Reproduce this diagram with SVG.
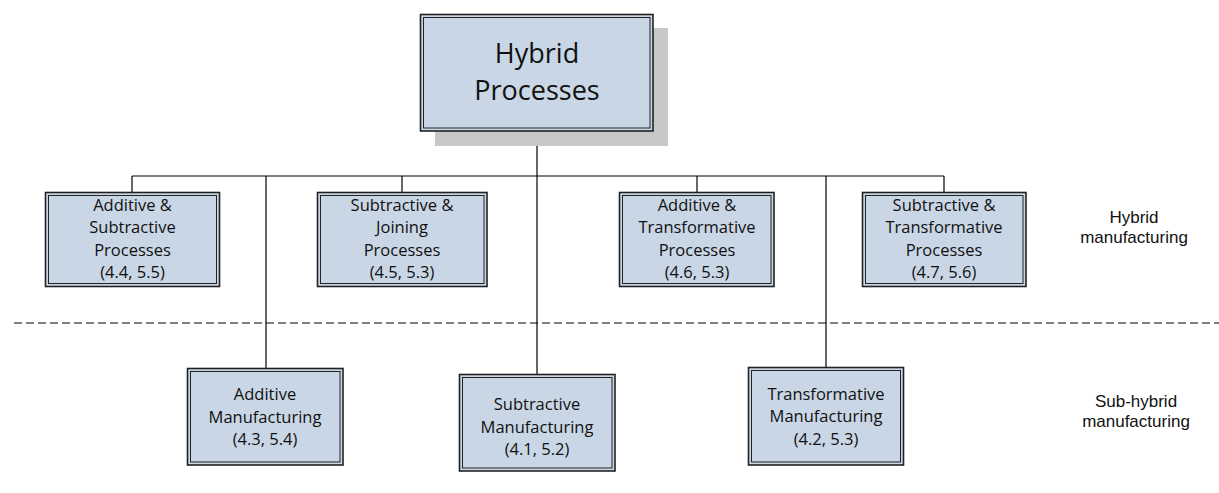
<svg xmlns="http://www.w3.org/2000/svg" width="1219" height="493" viewBox="0 0 1219 493">
<style>
.box{fill:#c9d6e5;stroke:#222;stroke-width:1.6}
.inner{fill:none;stroke:#222;stroke-width:1}
.t{font-family:"Open Sans","Liberation Sans",sans-serif;font-size:16.5px;fill:#111;text-anchor:middle}
.title{font-family:"Open Sans","Liberation Sans",sans-serif;font-size:27px;fill:#111;text-anchor:middle}
.lab{font-family:"Liberation Sans",Arial,sans-serif;font-size:17px;fill:#111;text-anchor:middle}
.conn{stroke:#000;stroke-width:1.2;fill:none}
</style>
<rect width="1219" height="493" fill="#fff"/>
<g id="connectors">
<line class="conn" x1="537" y1="131" x2="537" y2="374"/>
<line class="conn" x1="132" y1="176" x2="944" y2="176"/>
<line class="conn" x1="132" y1="176" x2="132" y2="192"/>
<line class="conn" x1="402" y1="176" x2="402" y2="192"/>
<line class="conn" x1="697" y1="176" x2="697" y2="192"/>
<line class="conn" x1="944" y1="176" x2="944" y2="192"/>
<line class="conn" x1="266" y1="176" x2="266" y2="368"/>
<line class="conn" x1="826" y1="176" x2="826" y2="367"/>
</g>
<g id="divider">
<line x1="14" y1="323" x2="1219" y2="323" stroke="#000" stroke-width="1.2" stroke-dasharray="8,4"/>
</g>
<g id="hybrid-processes">
<rect x="435" y="28" width="233" height="118" fill="#c8c8c8"/>
<rect class="box" x="420.5" y="14.5" width="232.5" height="116.5"/>
<rect class="inner" x="423.5" y="17.5" width="226.5" height="110.5"/>
<text class="title" x="537" y="63">Hybrid</text>
<text class="title" x="537" y="100">Processes</text>
</g>
<g id="add-sub">
<rect class="box" x="45.5" y="192.5" width="174" height="94"/>
<rect class="inner" x="48.5" y="195.5" width="168" height="88"/>
<text class="t" x="132.5" y="211">Additive &amp;</text>
<text class="t" x="132.5" y="233">Subtractive</text>
<text class="t" x="132.5" y="256">Processes</text>
<text class="t" x="132.5" y="278">(4.4, 5.5)</text>
</g>
<g id="sub-join">
<rect class="box" x="317.5" y="192.5" width="169.5" height="94"/>
<rect class="inner" x="320.5" y="195.5" width="163.5" height="88"/>
<text class="t" x="402" y="211">Subtractive &amp;</text>
<text class="t" x="402" y="233">Joining</text>
<text class="t" x="402" y="256">Processes</text>
<text class="t" x="402" y="278">(4.5, 5.3)</text>
</g>
<g id="add-trans">
<rect class="box" x="619.5" y="192.5" width="154.5" height="94"/>
<rect class="inner" x="622.5" y="195.5" width="148.5" height="88"/>
<text class="t" x="697" y="211">Additive &amp;</text>
<text class="t" x="697" y="233">Transformative</text>
<text class="t" x="697" y="256">Processes</text>
<text class="t" x="697" y="278">(4.6, 5.3)</text>
</g>
<g id="sub-trans">
<rect class="box" x="862.5" y="192.5" width="163.5" height="94"/>
<rect class="inner" x="865.5" y="195.5" width="157.5" height="88"/>
<text class="t" x="944" y="211">Subtractive &amp;</text>
<text class="t" x="944" y="233">Transformative</text>
<text class="t" x="944" y="256">Processes</text>
<text class="t" x="944" y="278">(4.7, 5.6)</text>
</g>
<g id="additive-mfg">
<rect class="box" x="187.5" y="368.5" width="155.5" height="96.5"/>
<rect class="inner" x="190.5" y="371.5" width="149.5" height="90.5"/>
<text class="t" x="265" y="400">Additive</text>
<text class="t" x="265" y="423">Manufacturing</text>
<text class="t" x="265" y="445">(4.3, 5.4)</text>
</g>
<g id="subtractive-mfg">
<rect class="box" x="459.5" y="374.5" width="155.5" height="96.5"/>
<rect class="inner" x="462.5" y="377.5" width="149.5" height="90.5"/>
<text class="t" x="537" y="410">Subtractive</text>
<text class="t" x="537" y="433">Manufacturing</text>
<text class="t" x="537" y="455">(4.1, 5.2)</text>
</g>
<g id="transformative-mfg">
<rect class="box" x="748.5" y="367.5" width="155" height="97.5"/>
<rect class="inner" x="751.5" y="370.5" width="149" height="91.5"/>
<text class="t" x="826" y="400">Transformative</text>
<text class="t" x="826" y="422">Manufacturing</text>
<text class="t" x="826" y="445">(4.2, 5.3)</text>
</g>
<g id="labels">
<text class="lab" x="1134" y="223">Hybrid</text>
<text class="lab" x="1134" y="243">manufacturing</text>
<text class="lab" x="1136" y="407">Sub-hybrid</text>
<text class="lab" x="1136" y="427">manufacturing</text>
</g>
</svg>
